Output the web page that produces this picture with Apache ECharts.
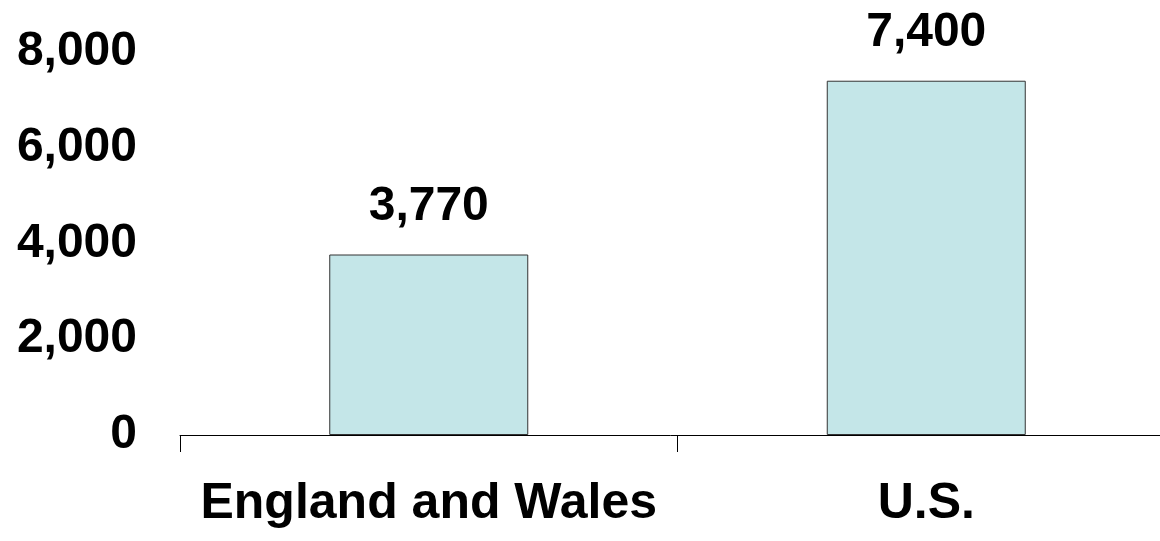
<!DOCTYPE html>
<html lang="en">
<head>
    <meta charset="UTF-8">
    <title>England and Wales vs U.S.</title>
    <script src="https://cdn.jsdelivr.net/npm/echarts@6/dist/echarts.min.js"></script>
    <style>
        html, body { margin: 0; padding: 0; background: #fff; }
        #chart { width: 1160px; height: 541px; }
    </style>
</head>
<body>

<div id="chart"></div>

<script>
    // data
    var categories = ['England and Wales', 'U.S.'];
    var values = [3770, 7400];
    var yTicks = [0, 2000, 4000, 6000, 8000];

    var fontFamily = '"Liberation Sans", Arial, sans-serif';

    function fmt(v) {
        return v.toLocaleString('en-US');
    }

    var myChart = echarts.init(document.getElementById('chart'));
    var option = {
        animation: false,
        backgroundColor: '#ffffff',
        grid: {
            left: 180,
            right: -15,
            top: 52,
            bottom: 106,
            outerBoundsMode: 'none'
        },
        xAxis: {
            type: 'category',
            data: categories,
            axisLine: { lineStyle: { color: '#000', width: 1 } },
            axisTick: { show: true, interval: 0, length: 17, lineStyle: { color: '#000' } },
            axisLabel: {
                interval: 0,
                hideOverlap: false,
                margin: 44,
                color: '#000',
                fontFamily: fontFamily,
                fontWeight: 'bold',
                fontSize: 50
            }
        },
        yAxis: {
            type: 'value',
            min: yTicks[0],
            max: yTicks[yTicks.length - 1],
            interval: 2000,
            axisLine: { show: false },
            axisTick: { show: false },
            splitLine: { show: false },
            axisLabel: {
                margin: 43,
                color: '#000',
                fontFamily: fontFamily,
                fontWeight: 'bold',
                fontSize: 48,
                formatter: function (v) { return fmt(v); }
            }
        },
        series: [{
            type: 'bar',
            data: values,
            barWidth: '40%',
            itemStyle: {
                color: '#c4e6e8',
                borderColor: '#333',
                borderWidth: 1
            },
            label: {
                show: true,
                position: 'top',
                distance: 24,
                color: '#000',
                fontFamily: fontFamily,
                fontWeight: 'bold',
                fontSize: 48,
                formatter: function (p) { return fmt(p.value); }
            }
        }]
    };
    myChart.setOption(option);
</script>

</body>
</html>
